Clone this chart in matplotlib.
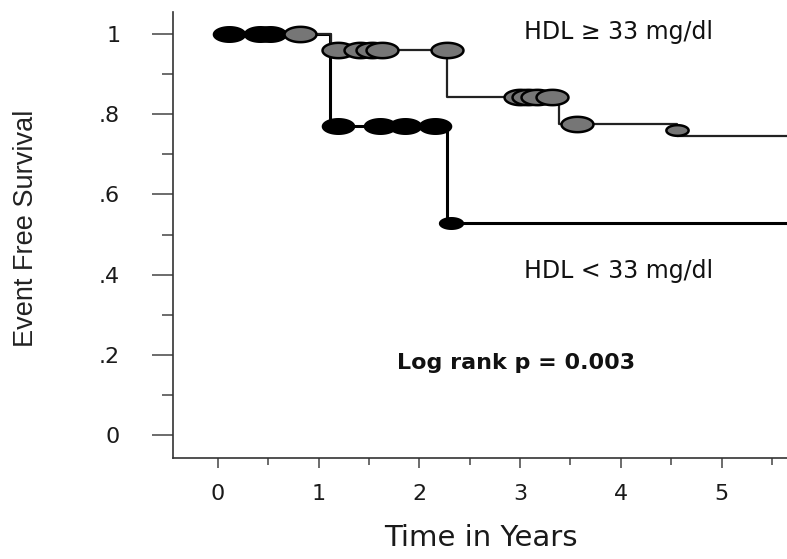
import numpy as np
import matplotlib
matplotlib.use("Agg")
import matplotlib.pyplot as plt
from matplotlib import font_manager
from matplotlib.path import Path
from matplotlib.ticker import MultipleLocator, FixedLocator

# Kaplan-Meier steps (time in years, event free survival)
low_times = [0.0, 1.11, 2.27]
low_surv = [1.0, 0.77, 0.53]
high_times = [0.0, 1.12, 2.27, 3.39, 4.56]
high_surv = [1.0, 0.96, 0.843, 0.776, 0.746]

# censored observations
low_cens_t = [0.11, 0.42, 0.52, 1.19, 1.61, 1.86, 2.15]
low_cens_s = [1.0, 1.0, 1.0, 0.77, 0.77, 0.77, 0.77]
low_last_t = [2.31]
low_last_s = [0.53]
high_cens_t = [0.81, 1.19, 1.41, 1.53, 1.63, 2.27, 3.0, 3.08, 3.17, 3.32, 3.56]
high_cens_s = [1.0, 0.96, 0.96, 0.96, 0.96, 0.96, 0.843, 0.843, 0.843, 0.843, 0.776]
high_last_t = [4.56]
high_last_s = [0.76]

x_ticks = [0, 1, 2, 3, 4, 5]
x_labels = ["0", "1", "2", "3", "4", "5"]
y_ticks = [0, 0.2, 0.4, 0.6, 0.8, 1.0]
y_labels = ["0", ".2", ".4", ".6", ".8", "1"]

X_MIN, X_MAX = -0.447, 5.65

installed = {f.name for f in font_manager.fontManager.ttflist}
narrow = "Liberation Sans Narrow" if "Liberation Sans Narrow" in installed else "Liberation Sans"

# flat ellipse used for the censor marks
th = np.linspace(0, 2 * np.pi, 60)
ellipse = Path(np.column_stack([np.cos(th), 0.48 * np.sin(th)]), closed=True)

fig = plt.figure(figsize=(7.87, 5.59), dpi=100)
ax = fig.add_axes([173 / 787, 1 - 458 / 559, 1 - 173 / 787, 446 / 559])

ax.step(low_times + [X_MAX], low_surv + [low_surv[-1]], where="post",
        color="black", lw=2.2, zorder=2)
ax.step(high_times + [X_MAX], high_surv + [high_surv[-1]], where="post",
        color="#222222", lw=1.6, zorder=2)

ax.plot(low_cens_t, low_cens_s, ls="none", marker=ellipse, ms=23,
        mfc="black", mec="black", mew=1.2, zorder=3)
ax.plot(low_last_t, low_last_s, ls="none", marker=ellipse, ms=17,
        mfc="black", mec="black", mew=1.2, zorder=3)
ax.plot(high_cens_t, high_cens_s, ls="none", marker=ellipse, ms=23,
        mfc="#767676", mec="black", mew=1.8, zorder=4)
ax.plot(high_last_t, high_last_s, ls="none", marker=ellipse, ms=16,
        mfc="#767676", mec="black", mew=1.8, zorder=4)

ax.set_xlim(X_MIN, X_MAX)
ax.set_ylim(-0.057, 1.055)

for s in ["top", "right"]:
    ax.spines[s].set_visible(False)
for s in ["left", "bottom"]:
    ax.spines[s].set_color("#333333")
    ax.spines[s].set_linewidth(1.2)

ax.xaxis.set_major_locator(FixedLocator(x_ticks))
ax.set_xticklabels(x_labels)
ax.xaxis.set_minor_locator(MultipleLocator(0.5))
ax.yaxis.set_major_locator(FixedLocator(y_ticks))
ax.set_yticklabels(y_labels)
ax.yaxis.set_minor_locator(MultipleLocator(0.1))

ax.tick_params(axis="y", which="major", length=15, width=1.1, color="#444444",
               pad=23, labelsize=16, labelcolor="#1a1a1a")
ax.tick_params(axis="y", which="minor", length=8, width=1.1, color="#444444")
ax.tick_params(axis="x", which="major", length=7, width=1.1, color="#444444",
               pad=12, labelsize=16, labelcolor="#1a1a1a")
ax.tick_params(axis="x", which="minor", length=5, width=1.1, color="#444444")
for lab in ax.get_xticklabels() + ax.get_yticklabels():
    lab.set_family("DejaVu Sans")

ax.text(3.98, 1.005, "HDL \u2265 33 mg/dl", fontsize=17, family="DejaVu Sans",
        va="center", ha="center", color="#111111")
ax.text(3.98, 0.41, "HDL < 33 mg/dl", fontsize=17, family="DejaVu Sans",
        va="center", ha="center", color="#111111")
ax.text(2.96, 0.18, "Log rank p = 0.003", fontsize=16, fontweight="bold",
        family="DejaVu Sans", va="center", ha="center", color="#111111")

ylab = fig.text(26 / 787, 1 - 228 / 559, "Event Free Survival", rotation=90,
                fontsize=20, family=narrow, ha="center", va="center", color="#222222")
# size the axis title so it spans the same run as the tick range
r = fig.canvas.get_renderer()
h = ylab.get_window_extent(r).height
ylab.set_fontsize(20 * 236 / h)

fig.text(481 / 787, 1 - 538 / 559, "Time in Years", fontsize=21,
         family="DejaVu Sans", ha="center", va="center", color="#1a1a1a")

fig.savefig("out.png", dpi=100)
